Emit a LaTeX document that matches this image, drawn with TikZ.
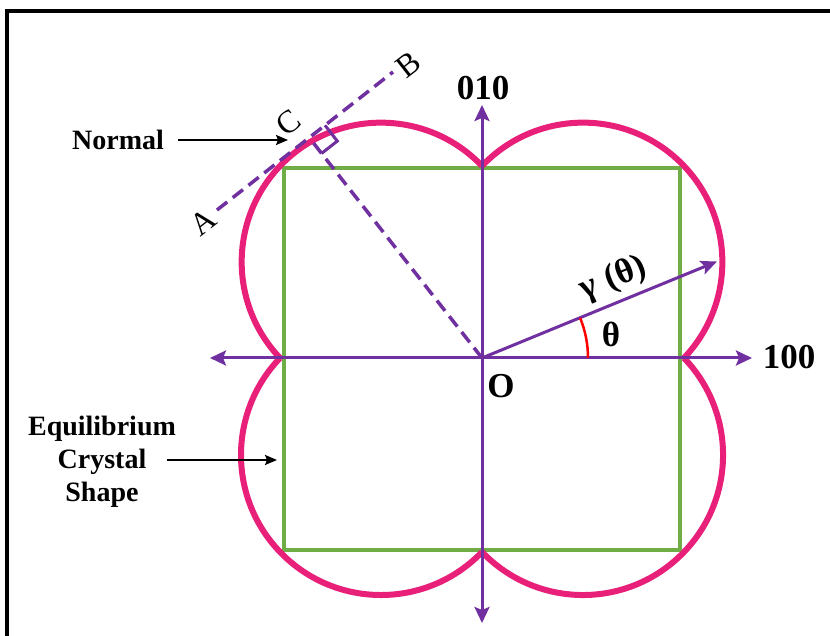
\documentclass[tikz,border=0pt]{standalone}
\usepackage{fontspec}
\setmainfont{Liberation Serif}
\usepackage{xcolor}
\usetikzlibrary{arrows.meta,calc,positioning}
\definecolor{axisviolet}{HTML}{7030A0}
\definecolor{facetgreen}{HTML}{70AD47}
\definecolor{lobepink}{HTML}{E8207A}

\begin{document}
\begin{tikzpicture}[
      x=1pt, y=1pt,
      axis/.style={draw=axisviolet, line width=3pt, {Stealth[length=16pt,width=15pt,inset=3pt]}-{Stealth[length=16pt,width=15pt,inset=3pt]}},
      gammaline/.style={draw=axisviolet, line width=3pt, -{Stealth[length=16pt,width=14pt,inset=3pt]}},
      guide/.style={draw=axisviolet, line width=3.5pt, dash pattern=on 13pt off 7pt},
      marker/.style={draw=axisviolet, line width=3pt},
      lobe/.style={draw=lobepink, line width=6pt},
      facet/.style={draw=facetgreen, line width=3.5pt},
      pointer/.style={draw=black, line width=2pt, -{Stealth[length=12pt,width=10pt,inset=2pt]}},
      lbl/.style={font=\fontsize{28}{33}\selectfont\bfseries, align=center},
      axlbl/.style={font=\fontsize{35}{40}\selectfont\bfseries},
      pt/.style={font=\fontsize{32}{36}\selectfont, rotate=38}
  ]
    \useasboundingbox[fill=white] (0,0) rectangle (830,636);
    % frame
    \draw[line width=3.5pt] (7,-10) -- (7,625) -- (840,625);

    % equilibrium shape
    \draw[facet] (284,86) rectangle (680,468);

    % gamma plot, four lobes
    \coordinate (cL) at (280,278);
    \coordinate (cT) at (482,470);
    \coordinate (cR) at (684,278);
    \coordinate (cB) at (482,84);
    \draw[lobe] (cL) arc[start angle=223.54, end angle=43.54, radius=139.35];
    \draw[lobe] (cT) arc[start angle=136.46, end angle=-43.54, radius=139.35];
    \draw[lobe] (cR) arc[start angle=43.85, end angle=-136.15, radius=140.03];
    \draw[lobe] (cB) arc[start angle=-43.85, end angle=-223.85, radius=140.03];

    % axes
    \coordinate (O) at (482,278);
    \coordinate (xL) at (210,278);
    \coordinate (xR) at (752,278);
    \coordinate (yB) at (482,13);
    \coordinate (yT) at (482,531);
    \draw[axis] (xL) -- (xR);
    \draw[axis] (yB) -- (yT);
    \node[axlbl] (lab100) at (789,279) {100};
    \node[axlbl] (lab010) at (483,548) {010};
    \node[axlbl] (labO) at (501,250) {O};

    % gamma(theta)
    \coordinate (gTip) at (717,374.5);
    \draw[gammaline] (O) -- (gTip);
    \draw[red, line width=2.5pt] ($(O)+(106,0)$) arc[start angle=0, end angle=22.2, radius=106];
    \node[axlbl, rotate=22] (labG) at (613,357) {γ\hspace{0.3em}(θ)};
    \node[axlbl] (labTh) at (611,302) {θ};

    % tangent line and normal
    \coordinate (A) at (217,426);
    \coordinate (B) at (393,564);
    \coordinate (T) at ($(A)!(O)!(B)$);
    \draw[guide] (A) -- (B);
    \draw[guide] (O) -- (T);
    \coordinate (mB) at ($(T)!20pt!(B)$);
    \coordinate (mO) at ($(T)!20pt!(O)$);
    \draw[marker] (mB) -- ($(mB)+(mO)-(T)$) -- (mO);
    \node[pt] (labA) at (203,414) {A};
    \node[pt] (labB) at (408,571) {B};
    \node[pt] (labC) at (288,513) {C};

    % callouts
    \node[lbl] (normal) at (118,496) {Normal};
    \coordinate (nTail) at (178,496);
    \coordinate (nHead) at (288,496);
    \draw[pointer] (nTail) -- (nHead);
    \node[lbl] (ecs) at (102,174) {Equilibrium\\Crystal\\Shape};
    \coordinate (eTail) at (167,176);
    \coordinate (eHead) at (277,176);
    \draw[pointer] (eTail) -- (eHead);
  \end{tikzpicture}
\end{document}
